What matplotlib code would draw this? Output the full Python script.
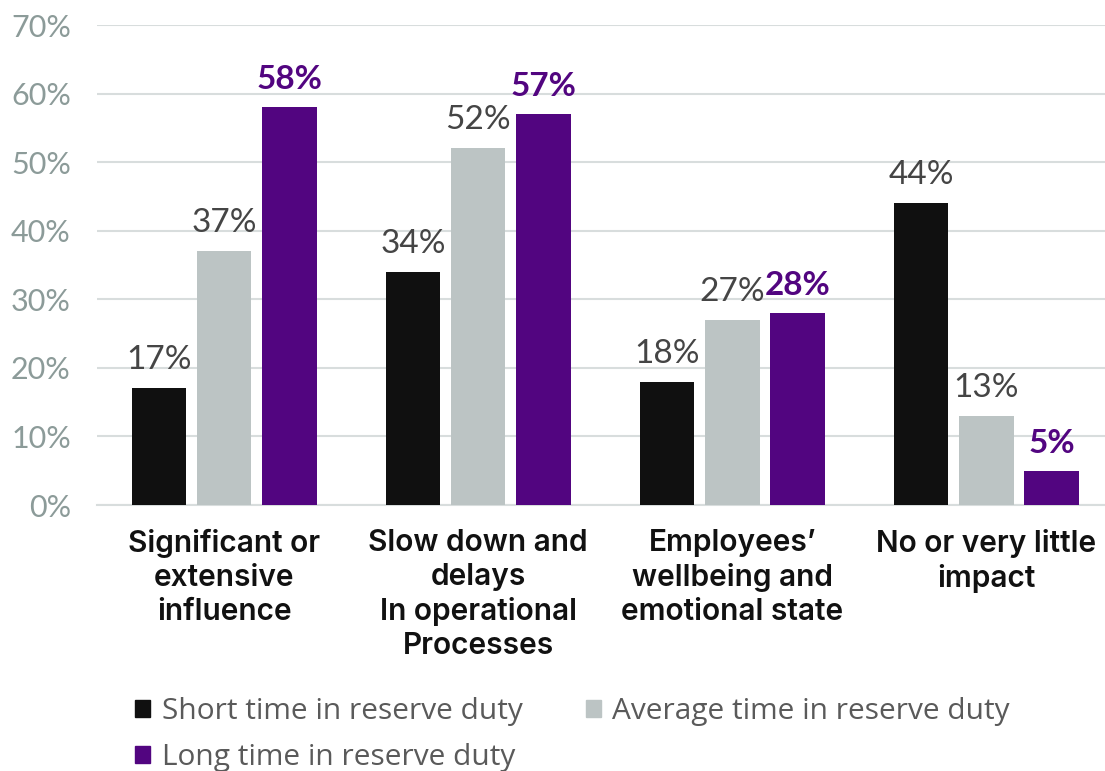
import matplotlib.pyplot as plt
import numpy as np
from matplotlib.patches import Patch

categories = [
    "Significant or\nextensive\ninfluence",
    "Slow down and\ndelays\nIn operational\nProcesses",
    "Employees’\nwellbeing and\nemotional state",
    "No or very little\nimpact",
]
series_names = [
    "Short time in reserve duty",
    "Average time in reserve duty",
    "Long time in reserve duty",
]
short_vals = [17, 34, 18, 44]
average_vals = [37, 52, 27, 13]
long_vals = [58, 57, 28, 5]
y_ticks = [0, 10, 20, 30, 40, 50, 60, 70]

COLORS = ["#101010", "#bcc4c4", "#520580"]
LABEL_COLORS = ["#454545", "#454545", "#520580"]
LABEL_WEIGHTS = ["normal", "normal", "bold"]

plt.rcParams["font.family"] = ["Lato", "DejaVu Sans"]

fig = plt.figure(figsize=(11.05, 7.71), dpi=100)
ax = fig.add_axes([0.088, 0.345, 0.915, 0.6225])

x = np.arange(len(categories))
pitch = 0.257
width = 0.214
all_vals = [short_vals, average_vals, long_vals]

for i, vals in enumerate(all_vals):
    pos = x + (i - 1) * pitch
    ax.bar(pos, vals, width=width, color=COLORS[i], zorder=3)
    for p, v in zip(pos, vals):
        ax.text(p, v + 1.9, f"{v}%", ha="center", va="bottom",
                fontsize=24, color=LABEL_COLORS[i], fontweight=LABEL_WEIGHTS[i])

ax.set_ylim(0, 70)
ax.set_xlim(-0.5, 3.48)
ax.set_yticks(y_ticks)
ax.set_yticklabels([f"{t}%" for t in y_ticks], fontsize=22, color="#8c9b99")
ax.grid(axis="y", color="#d8dddd", linewidth=1.5, zorder=0)
ax.tick_params(axis="y", length=0, pad=19)
ax.tick_params(axis="x", length=0, pad=17)
ax.set_xticks(x)
ax.set_xticklabels(categories, fontsize=21.5, fontweight="semibold", color="#111111",
                   linespacing=1.27, family=["Inter", "DejaVu Sans"])
for side in ["top", "right", "left"]:
    ax.spines[side].set_visible(False)
ax.spines["bottom"].set_color("#d8dddd")
ax.spines["bottom"].set_linewidth(1.5)

handles = [Patch(color=c) for c in COLORS]
order = [0, 2, 1]
fig.legend([handles[k] for k in order], [series_names[k] for k in order],
           ncol=2, loc="lower left", bbox_to_anchor=(0.098, -0.036),
           frameon=False, prop={"family": ["Open Sans", "DejaVu Sans"], "size": 21.5},
           labelcolor="#5a5a5a", handlelength=0.5, handleheight=0.5,
           handletextpad=0.4, columnspacing=2.1, labelspacing=0.55)

fig.savefig("out.png", dpi=100)
